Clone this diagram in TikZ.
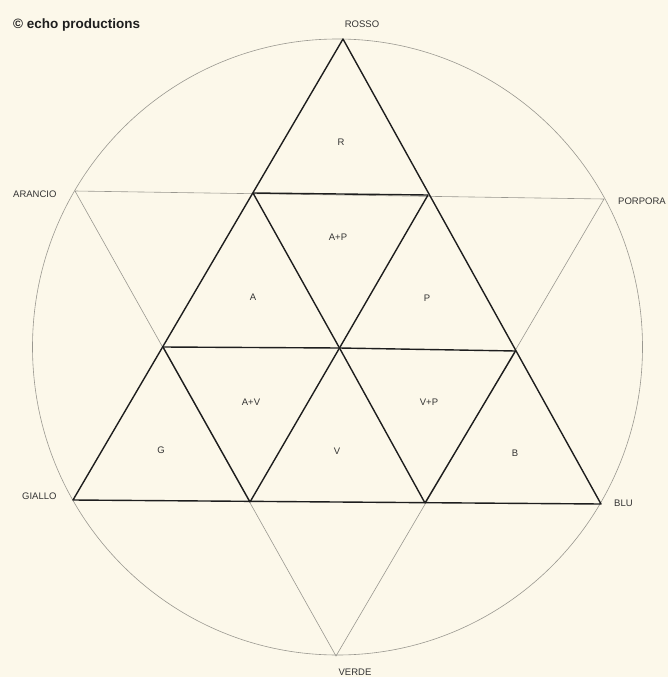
\documentclass[tikz,border=0pt]{standalone}
\usepackage{fontspec}
\setmainfont{Liberation Sans}
\definecolor{paper}{HTML}{FCF8EA}
\definecolor{ink}{HTML}{1E1E1E}
\definecolor{thin}{HTML}{9A9890}
\definecolor{txt}{HTML}{333333}
\begin{document}
\begin{tikzpicture}[x=1pt,y=-1pt,
  heavy/.style={draw=ink,line width=1.4pt,line join=round},
  light/.style={draw=thin,line width=0.6pt},
  lbl/.style={text=txt,font=\fontsize{9.5}{10}\selectfont,inner sep=0pt},
  cell/.style={text=txt,font=\fontsize{9.5}{10}\selectfont,inner sep=0pt}]
\fill[paper] (0,0) rectangle (668,677);
\useasboundingbox (0,0) rectangle (668,677);
% outer thin figures
\coordinate (ctr) at (337.5,347);
\draw[light] (ctr) ellipse [x radius=305pt, y radius=308pt];
\coordinate (ar) at (75,191);
\coordinate (po) at (604,199);
\coordinate (ve) at (336,656);
\draw[light] (ar) -- (po) -- (ve) -- cycle;
% vertices of the big triangle grid
\coordinate (t) at (343,39);
\coordinate (a1) at (253,193);
\coordinate (a2) at (428,195);
\coordinate (b1) at (163,347);
\coordinate (b2) at (339.5,348);
\coordinate (b3) at (515.5,351);
\coordinate (c1) at (73,500);
\coordinate (c2) at (250,502);
\coordinate (c3) at (425,503);
\coordinate (c4) at (601,504);
\draw[heavy] (t) -- (c1) -- (c4) -- cycle;
\draw[heavy] (a1) -- (a2);
\draw[heavy] (b1) -- (b2) -- (b3);
\draw[heavy] (a2) -- (b2) -- (c2);
\draw[heavy] (b3) -- (c3);
\draw[heavy] (a1) -- (b2) -- (c3);
\draw[heavy] (b1) -- (c2);
% cell labels
\node[cell] (r) at (341,142) {R};
\node[cell] (ap) at (338,237) {A+P};
\node[cell] (a) at (253,297) {A};
\node[cell] (p) at (427,298) {P};
\node[cell] (av) at (251,402) {A+V};
\node[cell] (vp) at (429,402) {V+P};
\node[cell] (g) at (161,450) {G};
\node[cell] (v) at (337,451) {V};
\node[cell] (b) at (515,453) {B};
% outer labels
\node[lbl] (rosso) at (362,24) {ROSSO};
\node[lbl,anchor=west] (arancio) at (13,194) {ARANCIO};
\node[lbl,anchor=west] (porpora) at (618,201) {PORPORA};
\node[lbl,anchor=west] (giallo) at (22,496) {GIALLO};
\node[lbl,anchor=west] (blu) at (614,503) {BLU};
\node[lbl] (verde) at (355,672) {VERDE};
\node[anchor=base west,inner sep=0pt,text=ink,font=\bfseries\fontsize{13.5}{14}\selectfont] (copy) at (13,29) {© echo productions};
\end{tikzpicture}
\end{document}
